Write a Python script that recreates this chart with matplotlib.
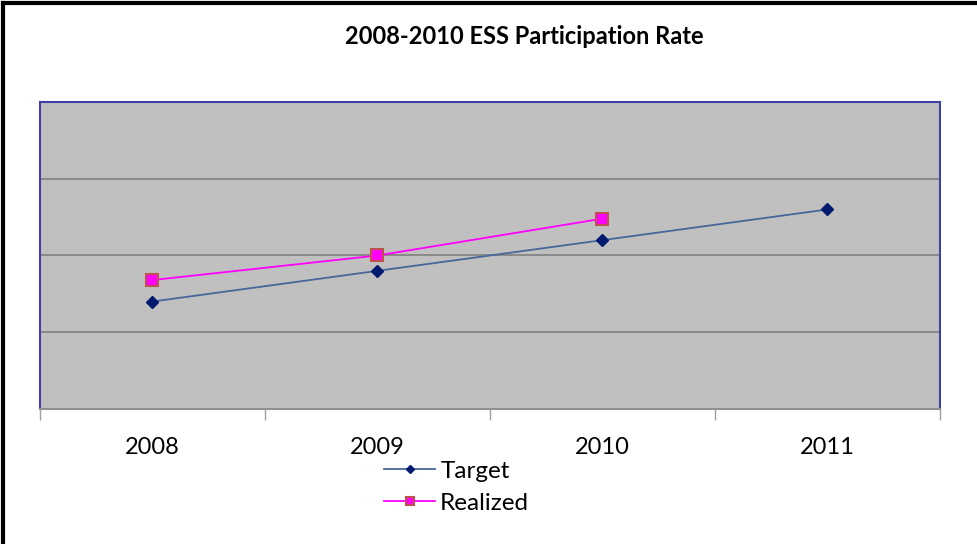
import matplotlib.pyplot as plt
from matplotlib.lines import Line2D

# participation rate per year
years = ['2008', '2009', '2010', '2011']
target = [35, 45, 55, 65]
realized = [42, 50, 62]

plt.rcParams['font.family'] = ['Lato', 'DejaVu Sans']

fig = plt.figure(figsize=(9.78, 5.44), dpi=100)
ax = fig.add_axes([0.0409, 0.2482, 0.9202, 0.5643])

ax.set_facecolor('#c0c0c0')
x_t = list(range(len(target)))
x_r = list(range(len(realized)))
ax.plot(x_t, target, color='#45689a', lw=1.3, marker='D', ms=6,
        mfc='#001a70', mec='#001a70', label='Target', zorder=3)
ax.plot(x_r, realized, color='#ff00ff', lw=1.3, marker='s', ms=8,
        mfc='#ff00ff', mec='#c0504d', mew=1.5, label='Realized', zorder=3)

ax.set_xlim(-0.5, 3.5)
ax.set_ylim(0, 100)
ax.set_yticks([25, 50, 75])
ax.yaxis.grid(True, color='#808080', lw=1.2)
ax.tick_params(axis='y', left=False, labelleft=False)

# category labels centred, tick marks between categories
ax.set_xticks(x_t)
ax.set_xticklabels(years, fontsize=17)
ax.set_xticks([-0.5, 0.5, 1.5, 2.5, 3.5], minor=True)
ax.tick_params(axis='x', which='major', length=0, pad=20)
ax.tick_params(axis='x', which='minor', length=8, color='#a0a0a0', width=1)

for side in ['top', 'left', 'right']:
    ax.spines[side].set_color('#4040a8')
    ax.spines[side].set_linewidth(1.5)
ax.spines['bottom'].set_color('#909090')
ax.spines['bottom'].set_linewidth(1.5)

fig.text(0.536, 0.932, '2008-2010 ESS Participation Rate', ha='center', va='center',
         fontsize=17, fontweight='bold')

fig.legend(loc='center', bbox_to_anchor=(0.467, 0.104), frameon=False, fontsize=17.5,
           handlelength=2.1, labelspacing=0.45, handletextpad=0.2, markerscale=0.75)

# black frame on top and left
fig.add_artist(Line2D([0.003, 0.003], [0, 0.995], color='black', lw=3, transform=fig.transFigure))
fig.add_artist(Line2D([0.003, 0.998], [0.995, 0.995], color='black', lw=3, transform=fig.transFigure))

fig.savefig('out.png', dpi=100)
